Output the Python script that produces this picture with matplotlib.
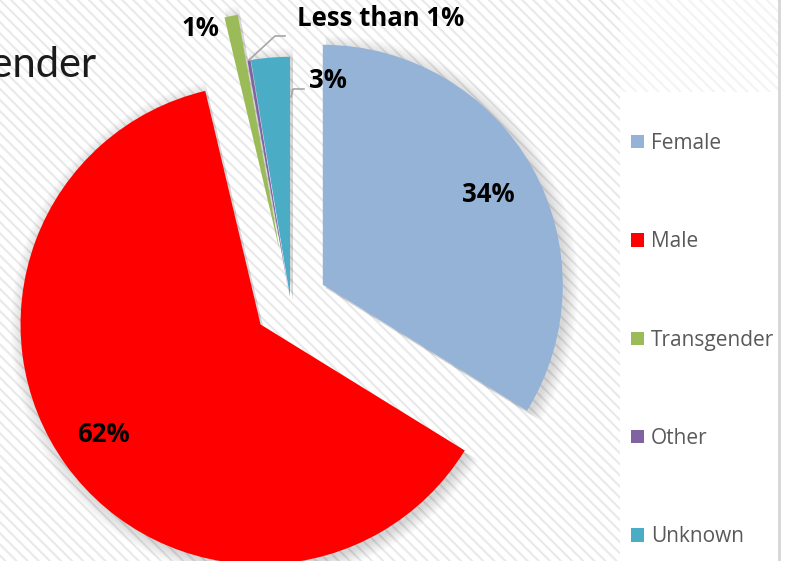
import matplotlib
matplotlib.use("Agg")
import matplotlib.pyplot as plt
from matplotlib.patches import Rectangle, Wedge
from matplotlib.lines import Line2D

# data
categories = ["Female", "Male", "Transgender", "Other", "Unknown"]
values = [33.8, 62.5, 0.9, 0.2, 2.6]
labels = ["34%", "62%", "1%", "Less than 1%", "3%"]
colors = ["#95B3D7", "#FF0000", "#9BBB59", "#8064A2", "#4BACC6"]
explode = [0.154, 0.154, 0.22, 0.025, 0.025]

W, H = 792, 561
R = 240.0          # pie radius in pixels
OX, OY = 290.5, 302.8   # pie centre in image pixels (from top)

plt.rcParams['hatch.linewidth'] = 1.5

fig = plt.figure(figsize=(W / 100, H / 100), dpi=100)
fig.patch.set_facecolor('white')

# striped background
fig.add_artist(Rectangle((0, 0), 778 / W, 1, transform=fig.transFigure,
                         facecolor='white', edgecolor='#e9e9e9', lw=0,
                         hatch='\\\\\\', zorder=0))
fig.add_artist(Rectangle((620 / W, 1 - 92 / H), 158 / W, 92 / H, transform=fig.transFigure,
                         facecolor='white', edgecolor='#f3f3f3', lw=0,
                         hatch='\\\\\\', zorder=0.5))
fig.add_artist(Line2D([779 / W, 779 / W], [0, 1], transform=fig.transFigure,
                      color='#d6d6d6', lw=2, zorder=1))

ax = fig.add_axes([0, 0, 1, 1])
ax.set_facecolor('none')

wedges, _ = ax.pie(values, colors=colors, explode=explode, startangle=90,
                   counterclock=False, radius=1.0,
                   wedgeprops=dict(linewidth=0, zorder=3))

# soft shadow around the slices
for w in wedges:
    cx, cy = w.center
    for k in range(10):
        sh = Wedge((cx + 0.012, cy - 0.014), w.r + 0.006 * k, w.theta1, w.theta2,
                   facecolor='black', edgecolor='none', alpha=0.016, zorder=2)
        ax.add_patch(sh)

ax.set_xlim(-OX / R, (W - OX) / R)
ax.set_ylim(-(H - OY) / R, OY / R)
ax.set_aspect('equal', adjustable='box')
ax.axis('off')

# legend panel
fig.add_artist(Rectangle((620 / W, 0), 158 / W, 1 - 92 / H, transform=fig.transFigure,
                         facecolor='white', edgecolor='none', zorder=1))
leg = fig.legend(wedges, categories, loc='upper left',
                 bbox_to_anchor=(631 / W, 1 - 133 / H), frameon=False,
                 labelcolor='#595959',
                 handlelength=0.62, handleheight=0.62, handletextpad=0.33,
                 labelspacing=3.71, borderpad=0, borderaxespad=0,
                 prop={'family': 'Open Sans', 'size': 15})


def fx(x):
    return x / W


def fy(y):
    return 1 - y / H


lab_font = dict(family='Open Sans', fontweight='bold', color='black', fontsize=18.5,
                ha='center', va='center')
fig.text(fx(488), fy(194), labels[0], **lab_font)
fig.text(fx(103), fy(435), labels[1], **lab_font)
fig.text(fx(200), fy(29), labels[2], **lab_font)
fig.text(fx(381), fy(19), labels[3], **lab_font)
fig.text(fx(328), fy(80), labels[4], **lab_font)

# leader lines
fig.add_artist(Line2D([fx(249), fx(275), fx(285)], [fy(60), fy(36), fy(36)],
                      transform=fig.transFigure, color='#a6a6a6', lw=1.2, zorder=5))
fig.add_artist(Line2D([fx(291), fx(293), fx(304)], [fy(97), fy(89), fy(89)],
                      transform=fig.transFigure, color='#a6a6a6', lw=1.2, zorder=5))

# title, cut off on the left
fig.text(fx(96), fy(77), "Gender", family='Lato', fontweight='normal', fontsize=30,
         color='#1a1a1a', ha='right', va='baseline')

fig.savefig("out.png", dpi=100)
